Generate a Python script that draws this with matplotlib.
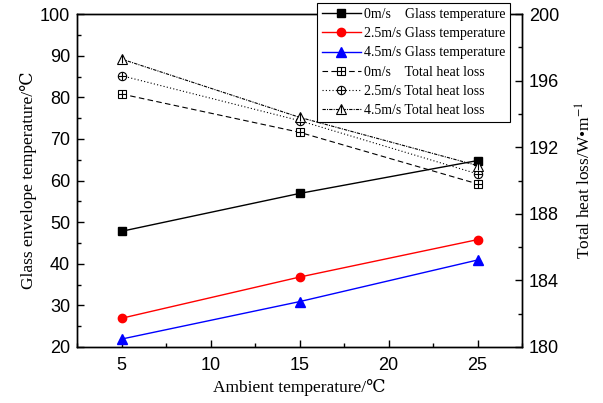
import numpy as np
import matplotlib
matplotlib.use('Agg')
import matplotlib.pyplot as plt
from matplotlib.ticker import MultipleLocator

plt.rcParams['mathtext.fontset'] = 'stix'

# data
ambient = [5, 15, 25]
glass_0 = [47.8, 56.9, 64.8]
glass_25 = [26.9, 36.8, 45.8]
glass_45 = [21.9, 30.9, 40.9]
loss_0 = [195.2, 192.9, 189.8]
loss_25 = [196.3, 193.6, 190.4]
loss_45 = [197.3, 193.8, 190.9]

serif = ['Liberation Serif', 'DejaVu Serif']
sans = 'Liberation Sans'

fig = plt.figure(figsize=(6.03, 4.03), dpi=100)
ax = fig.add_axes([0.1277, 0.139, 0.738, 0.826])
ax2 = ax.twinx()

l1, = ax.plot(ambient, glass_0, '-', color='black', marker='s', ms=5.5, lw=1)
l2, = ax.plot(ambient, glass_25, '-', color='red', marker='o', ms=6, lw=1)
l3, = ax.plot(ambient, glass_45, '-', color='blue', marker='^', ms=6.5, lw=1)

l4, = ax2.plot(ambient, loss_0, color='black', ls=(0, (5, 3)), lw=0.8,
               marker='s', ms=5.5, mfc='white', mec='black', mew=0.8)
p4, = ax2.plot(ambient, loss_0, ls='none', marker='+', ms=5.5, mec='black', mew=0.8)
l5, = ax2.plot(ambient, loss_25, color='black', ls=(0, (1, 2)), lw=0.8,
               marker='o', ms=6, mfc='white', mec='black', mew=0.8)
p5, = ax2.plot(ambient, loss_25, ls='none', marker='+', ms=6, mec='black', mew=0.8)
l6, = ax2.plot(ambient, loss_45, color='black', ls=(0, (3, 1, 1, 1)), lw=0.8,
               marker='^', ms=6.5, mfc='white', mec='black', mew=0.8)
p6, = ax2.plot(ambient, loss_45, ls='none', marker='|', ms=6, mec='black', mew=0.8)

ax.set_xlim(2.5, 27.5)
ax.set_ylim(20, 100)
ax2.set_ylim(180, 200)
ax.xaxis.set_major_locator(MultipleLocator(5))
ax.xaxis.set_minor_locator(MultipleLocator(2.5))
ax.yaxis.set_major_locator(MultipleLocator(10))
ax.yaxis.set_minor_locator(MultipleLocator(5))
ax2.yaxis.set_major_locator(MultipleLocator(4))
ax2.yaxis.set_minor_locator(MultipleLocator(2))

for a in (ax, ax2):
    a.tick_params(which='major', direction='in', length=5, width=1, labelsize=13, pad=5)
    a.tick_params(which='minor', direction='in', length=3, width=1)
    for lab in a.get_xticklabels() + a.get_yticklabels():
        lab.set_fontfamily(sans)
    for s in a.spines.values():
        s.set_linewidth(1)
ax.tick_params(axis='x', pad=7)
ax.tick_params(top=False, which='both')

ax.set_xlabel('Ambient temperature/℃', family=serif, fontsize=12.5, labelpad=4)
ax.set_ylabel('Glass envelope temperature/℃', family=serif, fontsize=12.5, labelpad=2)
ax2.set_ylabel('Total heat loss/W•m$^{-1}$', family=serif, fontsize=12.5, labelpad=12)

handles = [l1, l2, l3, (l4, p4), (l5, p5), (l6, p6)]
labels = ['0m/s    Glass temperature', '2.5m/s Glass temperature', '4.5m/s Glass temperature',
          '0m/s    Total heat loss', '2.5m/s Total heat loss', '4.5m/s Total heat loss']
leg = ax2.legend(handles, labels, loc='upper right', bbox_to_anchor=(0.973, 1.033),
                 borderaxespad=0, prop={'family': serif, 'size': 10}, fancybox=False,
                 edgecolor='black', framealpha=1, handlelength=2.8, handletextpad=0.2,
                 labelspacing=0.45, borderpad=0.35)
leg.get_frame().set_linewidth(0.8)

fig.savefig('out.png', dpi=100)
